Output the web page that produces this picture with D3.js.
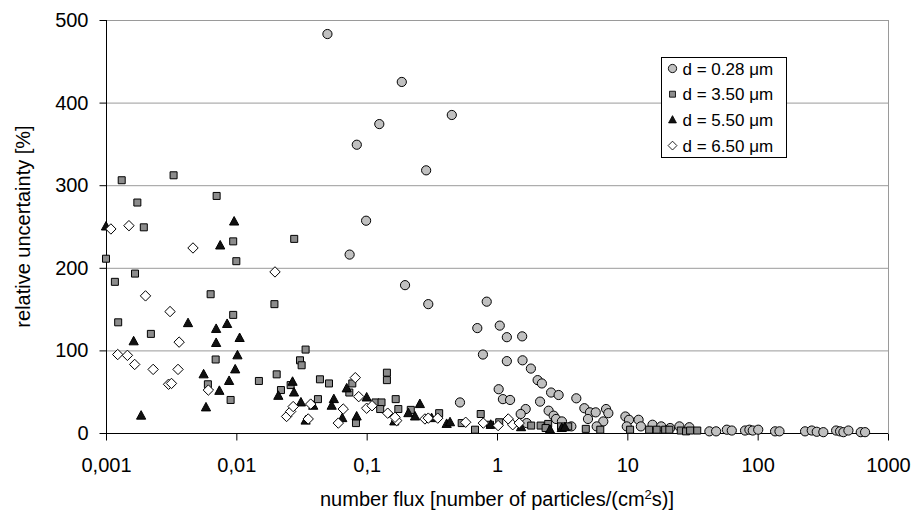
<!DOCTYPE html>
<html>
<head>
<meta charset="utf-8">
<script src="https://d3js.org/d3.v7.min.js"></script>
<style>
  body { margin: 0; background: #fff; }
  text { font-family: "Liberation Sans", Arial, sans-serif; fill: #000; }
</style>
</head>
<body>
<svg id="chart" width="914" height="515"></svg>
<script>
  // axis ticks
  const xTicks = [0.001, 0.01, 0.1, 1, 10, 100, 1000];
  const xTickLabels = ["0,001", "0,01", "0,1", "1", "10", "100", "1000"];
  const yTicks = [0, 100, 200, 300, 400, 500];
  const seriesNames = ["d = 0.28 \u03bcm", "d = 3.50 \u03bcm", "d = 5.50 \u03bcm", "d = 6.50 \u03bcm"];

  // [number flux, relative uncertainty %]
  const d028 = [
    [0.050, 483], [0.186, 425], [0.45, 385], [0.125, 374], [0.084, 349], [0.286, 318],
    [0.099, 257], [0.074, 216], [0.197, 179], [0.297, 156], [0.834, 159], [0.706, 127],
    [1.05, 130], [1.19, 116], [1.56, 117], [0.78, 95], [1.19, 87], [1.57, 88], [1.82, 78],
    [2.05, 64], [2.21, 60], [1.03, 53], [1.11, 41], [1.26, 40], [2.6, 49], [2.97, 46],
    [4.06, 42], [2.14, 38], [0.52, 37], [1.66, 29], [1.52, 23], [2.49, 27], [2.72, 21],
    [2.84, 17], [4.68, 30], [5.17, 25], [5.72, 25], [6.87, 29], [7.15, 24], [4.99, 17],
    [6.54, 14], [5.82, 8], [3.15, 14], [3.72, 8], [1.69, 12], [9.66, 20], [10.3, 16],
    [12.2, 16], [9.9, 8], [12.7, 8], [15.6, 10], [18.2, 8], [21.3, 6], [25.1, 8], [29.9, 7],
    [42.6, 2], [48, 2], [58, 4], [63.3, 3], [80, 3], [86.4, 4], [91.7, 3], [101, 4],
    [136, 2], [147, 2], [231, 2], [260, 3], [284, 1.5], [319, 1], [400, 3], [429, 2],
    [455, 1], [497, 3], [618, 1], [667, 1]
  ];
  const d350 = [
    [0.00132, 306], [0.0033, 312], [0.00706, 287], [0.00174, 279], [0.00195, 249],
    [0.00946, 232], [0.001, 211], [0.0100, 208], [0.00167, 193], [0.00117, 183],
    [0.00635, 168], [0.0196, 156], [0.0278, 235], [0.00946, 143], [0.00124, 134],
    [0.00221, 120], [0.00694, 89], [0.0204, 71], [0.00605, 59], [0.0149, 63], [0.022, 52],
    [0.00904, 40], [0.034, 101], [0.0308, 88], [0.0317, 82], [0.0261, 58], [0.0438, 65],
    [0.0514, 60], [0.0423, 41], [0.0776, 60], [0.0736, 49], [0.143, 73], [0.143, 64],
    [0.167, 41], [0.117, 37], [0.130, 37], [0.127, 29], [0.175, 29], [0.0828, 12],
    [0.218, 28], [0.36, 24], [0.536, 12], [0.75, 23], [0.678, 4], [0.884, 10], [1.04, 13],
    [1.83, 9], [2.16, 9], [2.47, 11], [2.36, 6], [3.1, 8], [3.52, 8], [4.8, 5], [6.2, 4],
    [10.5, 4], [14.7, 4], [16.8, 4], [19.5, 4], [21, 4], [25.7, 3], [28.2, 2], [30.3, 3],
    [34.4, 3]
  ];
  const d550 = [
    [0.001, 250], [0.00962, 256], [0.00752, 227], [0.00426, 133], [0.007, 126],
    [0.0085, 132], [0.0106, 115], [0.00163, 111], [0.007, 109], [0.0102, 94], [0.0098, 77],
    [0.00561, 71], [0.0088, 63], [0.00741, 51], [0.021, 45], [0.00585, 31], [0.00186, 21],
    [0.027, 62], [0.0277, 49], [0.0313, 37], [0.0389, 33], [0.034, 15], [0.056, 41],
    [0.0539, 33], [0.065, 18], [0.0703, 54], [0.1, 43], [0.0838, 20], [0.163, 14],
    [0.209, 24], [0.235, 20], [0.256, 35], [0.411, 11], [0.436, 13], [0.315, 18],
    [0.895, 10], [1.53, 7], [2.55, 4], [3.14, 6], [3.32, 7]
  ];
  const d650 = [
    [0.00109, 247], [0.0015, 251], [0.00465, 224], [0.0198, 195], [0.00201, 166],
    [0.0031, 147], [0.00364, 110], [0.00123, 95], [0.00146, 94], [0.00166, 83],
    [0.0023, 77], [0.00357, 77], [0.00302, 59], [0.00318, 60], [0.0061, 52], [0.0243, 20],
    [0.0261, 26], [0.0273, 32], [0.0372, 35], [0.0356, 17], [0.0606, 12], [0.0661, 29],
    [0.0818, 67], [0.0869, 44], [0.1, 30], [0.110, 33], [0.145, 24], [0.17, 15],
    [0.165, 19], [0.28, 17], [0.297, 18], [0.351, 18], [0.575, 13], [0.785, 12],
    [1.02, 9], [1.22, 17], [1.32, 10], [1.48, 12]
  ];

  const svg = d3.select("#chart");
  const plotLeft = 106, plotRight = 888, plotTop = 20, plotBottom = 433;

  const x = d3.scaleLog().domain([0.001, 1000]).range([plotLeft, plotRight]);
  const y = d3.scaleLinear().domain([0, 500]).range([plotBottom, plotTop]);

  // gridlines
  svg.append("g").selectAll("line")
    .data(yTicks.filter(v => v > 0))
    .enter().append("line")
    .attr("x1", plotLeft).attr("x2", plotRight)
    .attr("y1", d => y(d) + 0.5).attr("y2", d => y(d) + 0.5)
    .attr("stroke", "#9a9a9a").attr("stroke-width", 1);

  // plot area right border
  svg.append("line")
    .attr("x1", plotRight + 0.5).attr("x2", plotRight + 0.5)
    .attr("y1", plotTop).attr("y2", plotBottom)
    .attr("stroke", "#9a9a9a");

  // axes
  const xAxis = d3.axisBottom(x).tickValues(xTicks)
    .tickFormat((d, i) => xTickLabels[i]).tickSize(7).tickPadding(17);
  const gx = svg.append("g").attr("transform", `translate(0,${plotBottom + 0.5})`).call(xAxis);
  const yAxis = d3.axisLeft(y).tickValues(yTicks).tickSize(7).tickPadding(11);
  const gy = svg.append("g").attr("transform", `translate(${plotLeft + 0.5},0)`).call(yAxis);

  [gx, gy].forEach(g => {
    g.select(".domain").attr("stroke", "#000");
    g.selectAll(".tick line").attr("stroke", "#000");
    g.selectAll(".tick text").attr("font-size", 20).attr("font-family", "Liberation Sans, Arial, sans-serif").attr("fill", "#000");
  });
  gx.select(".domain").attr("d", `M${plotLeft},0H${plotRight}`);
  gy.select(".domain").attr("d", `M0,${plotTop}V${plotBottom}`);

  // axis titles
  svg.append("text")
    .attr("transform", `translate(30,${(plotTop + plotBottom) / 2}) rotate(-90)`)
    .attr("text-anchor", "middle")
    .attr("font-size", 20)
    .text("relative uncertainty [%]");

  const xt = svg.append("text")
    .attr("x", (plotLeft + plotRight) / 2).attr("y", 506)
    .attr("text-anchor", "middle")
    .attr("font-size", 20);
  xt.append("tspan").text("number flux [number of particles/(cm");
  xt.append("tspan").attr("font-size", 13).attr("dy", -7).text("2");
  xt.append("tspan").attr("dy", 7).text("s)]");

  // markers
  const shapes = [
    { fill: "#c0c0c0", path: "circle" },
    { fill: "#8c8c8c", path: "M-3.5,-3.5H3.5V3.5H-3.5Z" },
    { fill: "#111", path: "M0,-5L4.6,3.5H-4.6Z" },
    { fill: "#fff", path: "M0,-5.2L5.2,0L0,5.2L-5.2,0Z" }
  ];
  const allSeries = [d028, d350, d550, d650];

  function drawMarker(g, s) {
    if (s.path === "circle") {
      return g.append("circle").attr("r", 4.6)
        .attr("fill", s.fill).attr("stroke", "#000").attr("stroke-width", 1);
    }
    return g.append("path").attr("d", s.path)
      .attr("fill", s.fill).attr("stroke", "#000").attr("stroke-width", 1);
  }

  allSeries.forEach((data, i) => {
    const g = svg.append("g");
    data.forEach(d => {
      const m = g.append("g").attr("transform", `translate(${x(d[0])},${y(d[1])})`);
      drawMarker(m, shapes[i]);
    });
  });

  // legend
  const lg = svg.append("g").attr("transform", "translate(661.5,57.5)");
  lg.append("rect").attr("width", 125).attr("height", 100)
    .attr("fill", "#fff").attr("stroke", "#000");
  seriesNames.forEach((name, i) => {
    const row = lg.append("g").attr("transform", `translate(11,${11 + i * 25.7})`);
    const m = row.append("g").attr("transform", i === 0 ? "scale(0.9)" : "scale(0.85)");
    drawMarker(m, shapes[i]);
    row.append("text").attr("x", 10).attr("y", 6).attr("font-size", 17).text(name);
  });
</script>
</body>
</html>
